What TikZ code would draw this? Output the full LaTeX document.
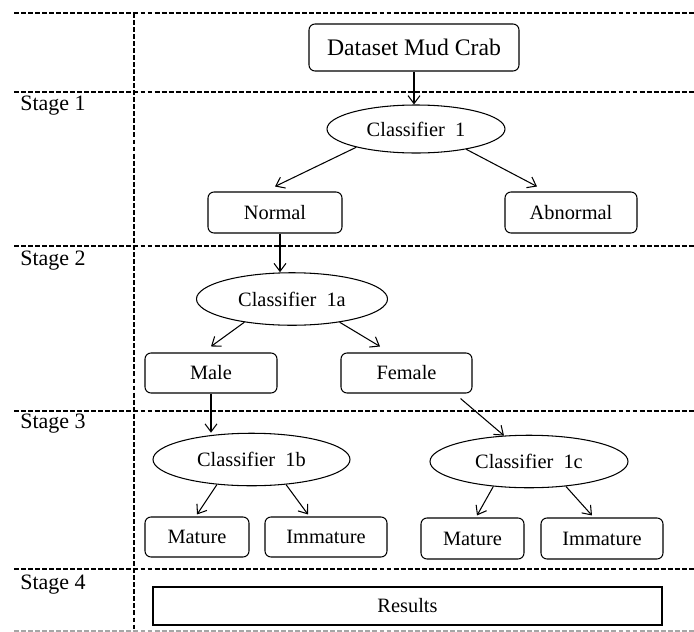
\documentclass[tikz,border=0pt]{standalone}
\usepackage{fontspec}
\setmainfont{Liberation Serif}
\usetikzlibrary{arrows.meta,shapes.geometric}
\tikzset{
  box/.style={draw, rounded corners=1.2mm, line width=0.6pt, minimum width=#1,
    minimum height=0.8cm, inner sep=0pt, font=\fontsize{11.6}{13}\selectfont},
  clf/.style={draw, ellipse, line width=0.6pt, minimum width=#1,
    minimum height=1.05cm, inner sep=0pt, font=\fontsize{11.6}{13}\selectfont},
  stagelabel/.style={anchor=north west, inner sep=0pt, font=\fontsize{12.5}{14}\selectfont},
  divider/.style={line width=0.8pt, dash pattern=on 2.8pt off 1.2pt},
  arr/.style={line width=0.6pt, -{Straight Barb[length=1.6mm,width=2.4mm]}}
}

\begin{document}
\begin{tikzpicture}
		%%%%% START %%%%%
		\useasboundingbox (0, 0) rectangle (13.88, -12.64);
		
		% stage dividers
		\draw[divider] (0.28, -0.26) -- (13.88, -0.26);
		\draw[divider] (0.28, -1.84) -- (13.88, -1.84);
		\draw[divider] (0.28, -4.92) -- (13.88, -4.92);
		\draw[divider] (0.28, -8.22) -- (13.88, -8.22);
		\draw[divider] (0.28, -11.38) -- (13.88, -11.38);
		\draw[divider, black!35] (0.28, -12.62) -- (13.88, -12.62);
		\draw[divider] (2.68, -0.26) -- (2.68, -12.64);
		
		\node[stagelabel] (s1) at (0.4, -1.92) {Stage 1};
		\node[stagelabel] (s2) at (0.4, -5.02) {Stage 2};
		\node[stagelabel] (s3) at (0.4, -8.28) {Stage 3};
		\node[stagelabel] (s4) at (0.4, -11.50) {Stage 4};
		
		% nodes
		\node[box=4.2cm, minimum height=0.94cm, font=\fontsize{13.5}{16}\selectfont] (data) at (8.28, -0.95) {Dataset Mud Crab};
		\node[clf=3.56cm, minimum height=0.96cm] (c1) at (8.32, -2.58) {Classifier~~1};
		\node[box=2.68cm, minimum height=0.82cm] (normal) at (5.5, -4.25) {Normal};
		\node[box=2.64cm, minimum height=0.82cm] (abnormal) at (11.42, -4.25) {Abnormal};
		
		\node[clf=3.82cm] (c1a) at (5.84, -5.98) {Classifier~~1a};
		\node[box=2.64cm] (male) at (4.22, -7.46) {Male};
		\node[box=2.62cm] (female) at (8.13, -7.46) {Female};
		
		\node[clf=3.94cm] (c1b) at (5.03, -9.19) {Classifier~~1b};
		\node[clf=3.96cm] (c1c) at (10.58, -9.23) {Classifier~~1c};
		\node[box=2.08cm] (mat1) at (3.94, -10.74) {Mature};
		\node[box=2.44cm] (imm1) at (6.52, -10.74) {Immature};
		\node[box=2.06cm, minimum height=0.82cm] (mat2) at (9.45, -10.77) {Mature};
		\node[box=2.44cm, minimum height=0.82cm] (imm2) at (12.04, -10.77) {Immature};
		
		\node[draw, line width=0.6pt, minimum width=10.18cm, minimum height=0.76cm, inner sep=0pt,
		  font=\fontsize{11.6}{13}\selectfont] (results) at (8.15, -12.12) {Results};
		
		% connectors
		\draw[arr] (data.south) -- (data.south |- c1.north);
		\draw[arr] (c1.197) -- ([yshift=1mm]normal.north);
		\draw[arr] (c1.338) -- ([xshift=-6.8mm, yshift=1mm]abnormal.north);
		\draw[arr] ([xshift=1mm]normal.south) -- ([xshift=1mm]normal.south |- c1a.north);
		\draw[arr] (c1a.206) -- ([yshift=1.2mm]male.north);
		\draw[arr] (c1a.334) -- ([xshift=-5.3mm, yshift=1.2mm]female.north);
		\draw[arr] (male.south) -- (male.south |- c1b.north);
		\draw[arr] ([xshift=-2.4mm, yshift=-1mm]female.south east) -- (c1c.134);
		\draw[arr] (c1b.216) -- ([yshift=0.4mm]mat1.north);
		\draw[arr] (c1b.324) -- ([xshift=-3.6mm, yshift=0.4mm]imm1.north);
		\draw[arr] (c1c.215) -- ([xshift=0.9mm, yshift=0.4mm]mat2.north);
		\draw[arr] (c1c.326) -- ([xshift=-2mm, yshift=0.4mm]imm2.north);
		%%%%% END %%%%%
	\end{tikzpicture}
\end{document}
